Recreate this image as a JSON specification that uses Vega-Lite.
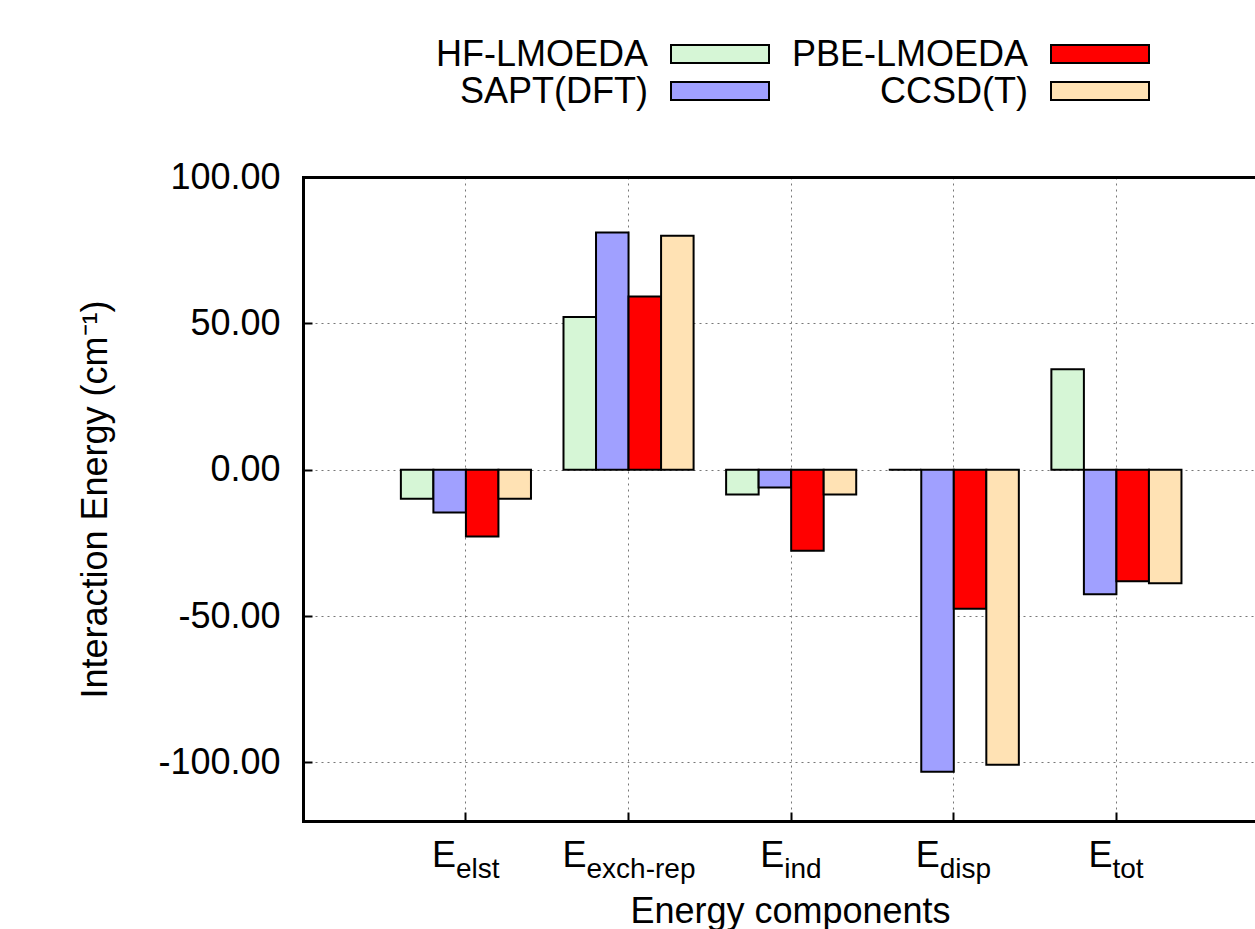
{
  "$schema": "https://vega.github.io/schema/vega-lite/v6.json",
  "width": 952,
  "height": 644,
  "autosize": {"type": "none"},
  "padding": {"left": 303, "top": 177, "right": 0, "bottom": 108},
  "background": "white",
  "config": {
    "font": "Liberation Sans",
    "view": {"stroke": null},
    "axis": {"labelColor": "black", "titleColor": "black", "titleFontWeight": "normal", "domainColor": "black", "tickColor": "black", "labelAngle": 0}
  },
  "data": {
    "values": [
      {"component": "elst", "method": "HF-LMOEDA", "energy": -9.9},
      {"component": "elst", "method": "SAPT(DFT)", "energy": -14.6},
      {"component": "elst", "method": "PBE-LMOEDA", "energy": -22.8},
      {"component": "elst", "method": "CCSD(T)", "energy": -9.9},
      {"component": "exch-rep", "method": "HF-LMOEDA", "energy": 52.2},
      {"component": "exch-rep", "method": "SAPT(DFT)", "energy": 81.0},
      {"component": "exch-rep", "method": "PBE-LMOEDA", "energy": 59.2},
      {"component": "exch-rep", "method": "CCSD(T)", "energy": 79.9},
      {"component": "ind", "method": "HF-LMOEDA", "energy": -8.5},
      {"component": "ind", "method": "SAPT(DFT)", "energy": -6.1},
      {"component": "ind", "method": "PBE-LMOEDA", "energy": -27.7},
      {"component": "ind", "method": "CCSD(T)", "energy": -8.5},
      {"component": "disp", "method": "HF-LMOEDA", "energy": 0.0},
      {"component": "disp", "method": "SAPT(DFT)", "energy": -103.2},
      {"component": "disp", "method": "PBE-LMOEDA", "energy": -47.5},
      {"component": "disp", "method": "CCSD(T)", "energy": -100.8},
      {"component": "tot", "method": "HF-LMOEDA", "energy": 34.3},
      {"component": "tot", "method": "SAPT(DFT)", "energy": -42.5},
      {"component": "tot", "method": "PBE-LMOEDA", "energy": -38.1},
      {"component": "tot", "method": "CCSD(T)", "energy": -38.8}
    ]
  },
  "layer": [
    {
      "layer": [
        {
          "mark": {"type": "bar", "stroke": "black", "strokeWidth": 2, "strokeJoin": "miter"},
          "encoding": {
            "x": {
              "field": "component", "type": "nominal",
              "sort": ["elst", "exch-rep", "ind", "disp", "tot"],
              "scale": {"paddingInner": 0.2, "paddingOuter": 0.527, "align": 0.571},
              "axis": {
                "orient": "bottom",
                "labelExpr": "datum.value",
                "labelFontSize": 28,
                "labelAngle": 0,
                "labelAlign": "left",
                "labelBaseline": "alphabetic",
                "labelPadding": 65,
                "labelOverlap": false,
                "labelBound": false,
                "labelOffset": {"condition": [
                  {"test": "datum.value === 'elst'", "value": -10},
                  {"test": "datum.value === 'exch-rep'", "value": -42},
                  {"test": "datum.value === 'ind'", "value": -7},
                  {"test": "datum.value === 'disp'", "value": -14}
                ], "value": -4},
                "ticks": true, "tickSize": -9, "tickWidth": 2,
                "domain": true, "domainWidth": 3, "domainCap": "square",
                "grid": true, "gridDash": [2, 4], "gridColor": "#777", "gridWidth": 1,
                "title": "Energy components", "titleFontSize": 36,
                "titleX": 487, "titleY": 101, "titleAlign": "center", "titleBaseline": "alphabetic"
              }
            },
            "xOffset": {
              "field": "method", "type": "nominal",
              "sort": ["HF-LMOEDA", "SAPT(DFT)", "PBE-LMOEDA", "CCSD(T)"],
              "scale": {"paddingInner": 0, "paddingOuter": 0}
            },
            "y": {
              "field": "energy", "type": "quantitative",
              "scale": {"domain": [-120, 100], "nice": false, "zero": false},
              "axis": {
                "values": [-100, -50, 0, 50, 100],
                "labelExpr": "replace(format(datum.value, '.2f'), '\u2212', '-')",
                "labelFontSize": 36,
                "labelPadding": 32,
                "tickSize": -9, "tickWidth": 2,
                "domainWidth": 3, "domainCap": "square",
                "grid": true, "gridDash": [2, 4], "gridColor": "#777", "gridWidth": 1,
                "title": "Interaction Energy (cm\u207b\u00b9)", "titleFontSize": 36,
                "titleX": -197, "titleY": 322, "titleAlign": "center", "titleBaseline": "alphabetic", "titleAngle": -90
              }
            },
            "fill": {
              "field": "method", "type": "nominal",
              "scale": {
                "domain": ["HF-LMOEDA", "SAPT(DFT)", "PBE-LMOEDA", "CCSD(T)"],
                "range": ["#d6f6d6", "#a0a0ff", "#ff0000", "#ffe2b4"]
              },
              "legend": null
            }
          }
        },
        {
          "mark": {"type": "text", "text": ""},
          "encoding": {
            "x": {
              "field": "component", "type": "nominal",
              "sort": ["elst", "exch-rep", "ind", "disp", "tot"],
              "axis": {
                "orient": "bottom",
                "labelExpr": "'E'",
                "labelFontSize": 36,
                "labelAngle": 0,
                "labelAlign": "right",
                "labelBaseline": "alphabetic",
                "labelPadding": 45,
                "labelOverlap": false,
                "labelBound": false,
                "labelOffset": {"condition": [
                  {"test": "datum.value === 'elst'", "value": -10},
                  {"test": "datum.value === 'exch-rep'", "value": -42},
                  {"test": "datum.value === 'ind'", "value": -7},
                  {"test": "datum.value === 'disp'", "value": -14}
                ], "value": -4},
                "ticks": false, "tickSize": 0,
                "domain": false, "grid": false, "title": null
              }
            }
          }
        },
        {
          "mark": {"type": "text", "text": ""},
          "encoding": {
            "x": {
              "field": "component", "type": "nominal",
              "sort": ["elst", "exch-rep", "ind", "disp", "tot"],
              "axis": {
                "orient": "top",
                "labels": false, "ticks": false, "grid": false,
                "domain": true, "domainWidth": 3, "domainCap": "square",
                "title": null
              }
            }
          }
        }
      ],
      "resolve": {"axis": {"x": "independent"}}
    },
    {
      "data": {
        "values": [
          {"method": "HF-LMOEDA", "col": 0, "row": 0},
          {"method": "SAPT(DFT)", "col": 0, "row": 1},
          {"method": "PBE-LMOEDA", "col": 1, "row": 0},
          {"method": "CCSD(T)", "col": 1, "row": 1}
        ]
      },
      "encoding": {
        "x": {"field": "col", "type": "quantitative", "scale": {"domain": [0, 1], "range": [417, 797], "zero": false, "nice": false}, "axis": null},
        "y": {"field": "row", "type": "quantitative", "scale": {"domain": [0, 1], "range": [-123, -86], "zero": false, "nice": false}, "axis": null}
      },
      "layer": [
        {
          "mark": {"type": "point", "shape": "M-1,-0.184H1V0.184H-1Z", "size": 9604, "filled": true, "opacity": 1, "stroke": "black", "strokeWidth": 2},
          "encoding": {
            "fill": {"field": "method", "type": "nominal", "legend": null}
          }
        },
        {
          "mark": {"type": "text", "align": "right", "baseline": "alphabetic", "dx": -72, "dy": 12, "fontSize": 36, "color": "black"},
          "encoding": {
            "text": {"field": "method"}
          }
        }
      ]
    }
  ],
  "resolve": {
    "scale": {"x": "independent", "y": "independent"},
    "axis": {"x": "independent", "y": "independent"}
  }
}
